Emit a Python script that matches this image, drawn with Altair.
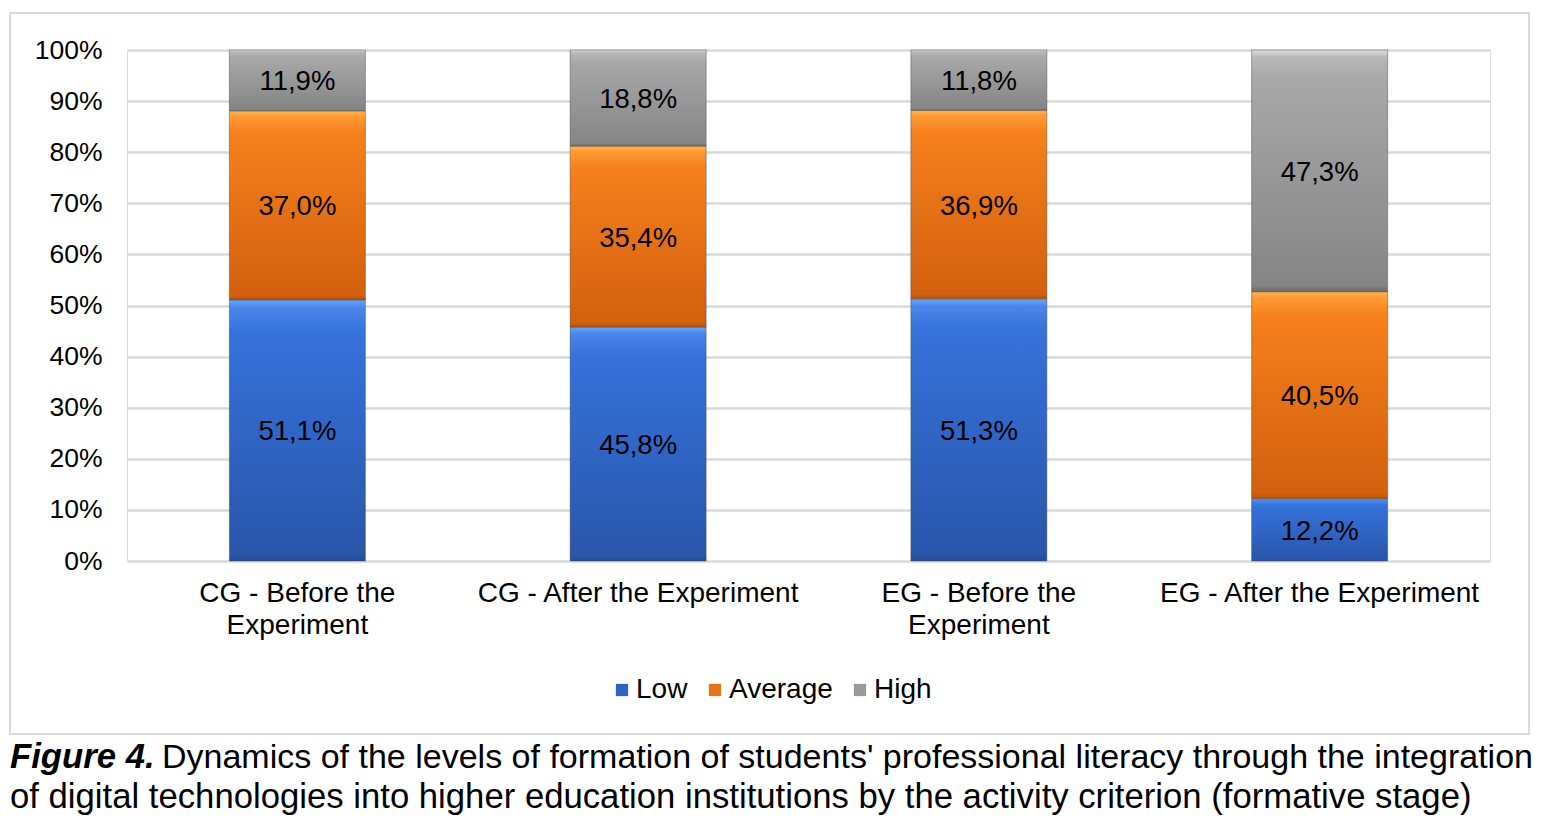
import altair as alt
import pandas as pd

# Chart values
categories = ["CG - Before the Experiment", "CG - After the Experiment",
              "EG - Before the Experiment", "EG - After the Experiment"]
levels = ["Low", "Average", "High"]
low = [51.1, 45.8, 51.3, 12.2]
average = [37.0, 35.4, 36.9, 40.5]
high = [11.9, 18.8, 11.8, 47.3]
y_ticks = [0, 10, 20, 30, 40, 50, 60, 70, 80, 90, 100]

rows = []
for i, cat in enumerate(categories):
    for j, (lvl, series) in enumerate(zip(levels, [low, average, high])):
        rows.append({"category": cat, "level": lvl, "order": j, "value": series[i]})
df = pd.DataFrame(rows)

FONT = "Liberation Sans"
W, H = 1363, 511

# bevel-like vertical gradients per level
def grad(top, hi, mid, bottom, edge):
    return alt.LinearGradient(
        gradient="linear", x1=0, y1=0, x2=0, y2=1,
        stops=[alt.GradientStop(offset=0, color=hi),
               alt.GradientStop(offset=0.03, color=top),
               alt.GradientStop(offset=0.12, color=mid),
               alt.GradientStop(offset=0.975, color=bottom),
               alt.GradientStop(offset=1, color=edge)])

fills = {
    "Low": grad("#4a86ea", "#6aa6f6", "#3572da", "#2a56ab", "#244a94"),
    "Average": grad("#ff9a35", "#ffb455", "#f5801c", "#d2600f", "#b5520d"),
    "High": grad("#b8b8b8", "#dedede", "#a8a8a8", "#858585", "#6a6a6a"),
}
legend_colors = ["#2f63c4", "#e8741a", "#9a9a9a"]

base = alt.Chart(df).transform_stack(
    stack="value", groupby=["category"], sort=[alt.SortField("order")], as_=["v0", "v1"]
).transform_calculate(
    mid="(datum.v0 + datum.v1) / 2",
    label="replace(format(datum.value, '.1f'), '.', ',') + '%'",
)

x_enc = alt.X("category:N", sort=categories, title=None,
              scale=alt.Scale(paddingInner=0, paddingOuter=0),
              axis=alt.Axis(labelAngle=0, labelFont=FONT, labelFontSize=28,
                            labelColor="#000000", labelPadding=18, labelLineHeight=32,
                            labelBaseline="top", labelLimit=0, domain=False, ticks=False,
                            labelExpr="indexof(datum.value, 'Before') >= 0 ? "
                                      "[replace(datum.value, ' Experiment', ''), 'Experiment'] : datum.value"))
y_scale = alt.Scale(domain=[0, 100], nice=False)

bars = []
for lvl in levels:
    bars.append(
        base.transform_filter(alt.datum.level == lvl).mark_bar(
            size=136, color=fills[lvl], stroke="#4a4a4a", strokeWidth=0.8, strokeOpacity=0.6
        ).encode(
            x=x_enc,
            y=alt.Y("v0:Q", scale=y_scale, title=None,
                    axis=alt.Axis(values=y_ticks, labelExpr="datum.value + '%'",
                                  labelFont=FONT, labelFontSize=26.5, labelColor="#000000",
                                  labelPadding=25, domain=False, ticks=False,
                                  grid=True, gridColor="#d9d9d9", gridWidth=2.5)),
            y2="v1:Q",
        )
    )

labels = base.mark_text(font=FONT, fontSize=27.5, color="#000000", baseline="middle", dy=2).encode(
    x=alt.X("category:N", sort=categories),
    y=alt.Y("mid:Q", scale=y_scale),
    text="label:N",
)

legend_layer = base.mark_square(opacity=0).encode(
    x=alt.X("category:N", sort=categories),
    y=alt.Y("mid:Q", scale=y_scale),
    color=alt.Color("level:N", scale=alt.Scale(domain=levels, range=legend_colors),
                    legend=alt.Legend(title=None, orient="none", direction="horizontal",
                                      legendX=481, legendY=626, symbolType="square",
                                      symbolSize=150, symbolOpacity=1, symbolStrokeWidth=0,
                                      labelFont=FONT, labelFontSize=28, labelColor="#000000",
                                      labelOffset=0, columnPadding=13)),
)

# outer frame of the chart block
frame = alt.Chart(pd.DataFrame({"k": [0]})).mark_rect(
    fill=None, stroke="#d9d9d9", strokeWidth=2
).encode(x=alt.value(-117), x2=alt.value(1402), y=alt.value(-37), y2=alt.value(684))

cap_style = dict(font=FONT, color="#000000", align="left", baseline="middle")
cap_a = alt.Chart(pd.DataFrame({"k": [0]})).mark_text(
    text="Figure 4.", fontWeight="bold", fontStyle="italic", fontSize=34.7, **cap_style
).encode(x=alt.value(-117), y=alt.value(708))
cap_b = alt.Chart(pd.DataFrame({"k": [0]})).mark_text(
    text="Dynamics of the levels of formation of students' professional literacy through the integration",
    fontSize=34.0, **cap_style
).encode(x=alt.value(35), y=alt.value(708))
cap_c = alt.Chart(pd.DataFrame({"k": [0]})).mark_text(
    text="of digital technologies into higher education institutions by the activity criterion (formative stage)",
    fontSize=34.7, **cap_style
).encode(x=alt.value(-117), y=alt.value(748))

chart = alt.layer(frame, *bars, labels, legend_layer, cap_a, cap_b, cap_c).properties(
    width=W, height=H,
    autosize=alt.AutoSizeParams(type="none"),
    padding={"left": 127, "top": 50, "right": 56, "bottom": 257},
).configure_view(stroke=None).configure(background="#ffffff")

chart.save("out.html", embed_options={"renderer": "svg", "actions": False})
